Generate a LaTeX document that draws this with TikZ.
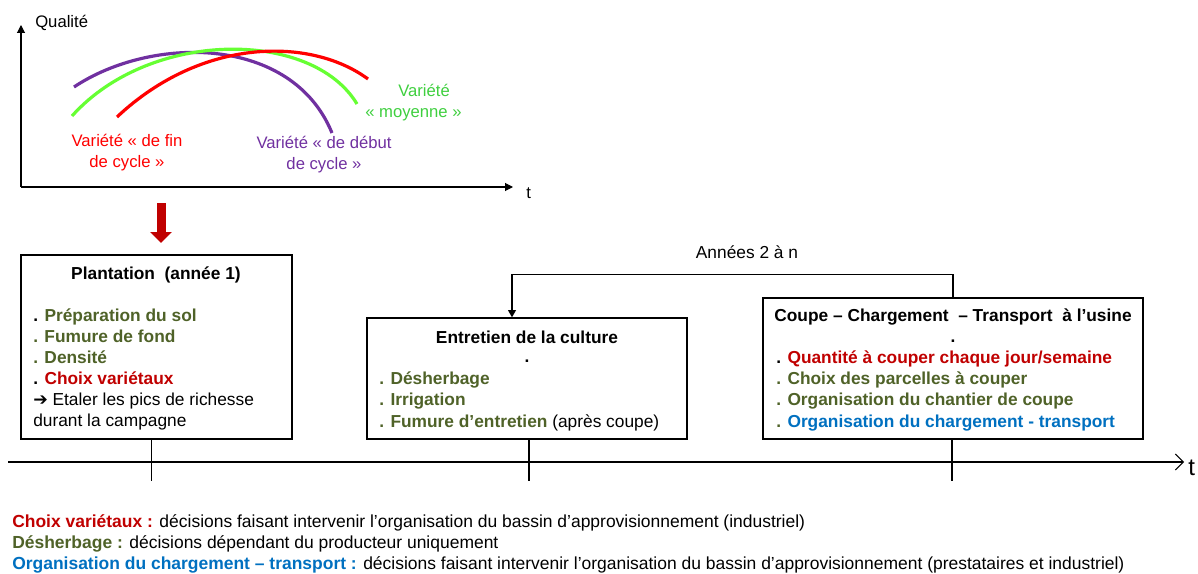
\documentclass[tikz,border=0pt]{standalone}
\usepackage{fontspec}
\setmainfont{Liberation Sans}
\usetikzlibrary{arrows.meta,fit,positioning,calc}
\definecolor{olivetxt}{HTML}{4F6228}
\definecolor{redtxt}{HTML}{C00000}
\definecolor{bluetxt}{HTML}{0070C0}
\definecolor{purplecv}{HTML}{7030A0}
\definecolor{greencv}{HTML}{66FF33}
\definecolor{greentxt}{HTML}{3FCF3F}
\definecolor{redcv}{HTML}{FF0000}
\tikzset{
  box/.style={draw, line width=1pt, inner sep=0pt},
  boxtitle/.style={anchor=base, inner sep=0pt, font=\fontsize{13}{15.75}\selectfont\bfseries},
  line/.style={anchor=base west, inner sep=0pt, font=\fontsize{13}{15.75}\selectfont},
  legend/.style={anchor=base west, inner sep=0pt, font=\fontsize{13.1}{15.75}\selectfont},
  curvelab/.style={align=center, inner sep=0pt, font=\fontsize{12.5}{15.75}\selectfont},
  curve/.style={line width=2.4pt},
  axis/.style={line width=0.8pt, -{Triangle[length=6pt,width=6pt]}},
  conn/.style={line width=0.8pt, -{Triangle[length=5.5pt,width=6pt]}},
}
\begin{document}
\begin{tikzpicture}[x=0.75pt,y=-0.75pt]
  \useasboundingbox (0,0) rectangle (1198,574);
  % Graphe qualite
  \coordinate (origin) at (21,187);
  \draw[axis] (origin) -- (21,25);
  \draw[axis] (origin) -- (513,187);
  \node[anchor=base west, inner sep=0pt, font=\fontsize{12.5}{15}\selectfont] (qual) at (35,28) {Qualité};
  \node[anchor=base west, inner sep=0pt, font=\fontsize{12.5}{15}\selectfont] (taxis) at (526,198) {t};
  \draw[curve, purplecv] (74,87) .. controls (152,35) and (292,35) .. (332,133);
  \draw[curve, greencv] (72,116) .. controls (150,29) and (312,29) .. (357,104);
  \draw[curve, redcv] (117,117) .. controls (202,37) and (311,37) .. (368,79);
  \node[curvelab, text=redcv] (labfin) at (127,153) {Variété « de fin\\de cycle »};
  \node[curvelab, text=purplecv] (labdebut) at (324,155) {Variété « de début\\de cycle »};
  \node[curvelab, text=greentxt, anchor=base west] (labmoy) at (398,97) {Variété};
  \node[curvelab, text=greentxt, anchor=base west] (labmoyb) at (365,118) {« moyenne »};
  % Fleche vers la plantation
  \coordinate (redstart) at (161,203);
  \draw[redtxt, line width=6.75pt, -{Triangle[length=8.25pt,width=15.75pt]}] (redstart) -- (161,243);
  % Boites
  \node[box, fit={(21,255) (292,439)}] (plant) {};
  \node[box, fit={(367,318) (687,439)}] (entretien) {};
  \node[box, fit={(763,298) (1143,439)}] (coupe) {};
  % Plantation
  \node[boxtitle] (planttitle) at (156,279) {Plantation\ \ (année 1)};
  \node[line] (p1) at (33,321) {\textbf{. \textcolor{olivetxt}{Préparation du sol}}};
  \node[line] (p2) at (33,342) {\textbf{\textcolor{olivetxt}{. Fumure de fond}}};
  \node[line] (p3) at (33,363) {\textbf{\textcolor{olivetxt}{. Densité}}};
  \node[line] (p4) at (33,384) {\textbf{. \textcolor{redtxt}{Choix variétaux}}};
  \node[line] (p5) at (33,405) {{\fontspec{DejaVu Sans}\bfseries ➔} Etaler les pics de richesse};
  \node[line] (p6) at (33,426) {durant la campagne};
  % Entretien
  \node[boxtitle] (enttitle) at (527,343) {Entretien de la culture};
  \node[boxtitle] (entdot) at (527,362) {.};
  \node[line] (e1) at (379,384) {\textbf{\textcolor{olivetxt}{. Désherbage}}};
  \node[line] (e2) at (379,405) {\textbf{\textcolor{olivetxt}{. Irrigation}}};
  \node[line] (e3) at (379,427) {\textbf{\textcolor{olivetxt}{. Fumure d’entretien}} (après coupe)};
  % Coupe
  \node[boxtitle] (coupetitle) at (953,321) {Coupe -- Chargement\ \ -- Transport\ \ à l’usine};
  \node[boxtitle] (coupedot) at (953,342) {.};
  \node[line] (c1) at (776,363) {\textbf{. \textcolor{redtxt}{Quantité à couper chaque jour/semaine}}};
  \node[line] (c2) at (776,384) {\textbf{\textcolor{olivetxt}{. Choix des parcelles à couper}}};
  \node[line] (c3) at (776,405) {\textbf{\textcolor{olivetxt}{. Organisation du chantier de coupe}}};
  \node[line] (c4) at (776,427) {\textbf{\textcolor{olivetxt}{.} \textcolor{bluetxt}{Organisation du chargement - transport}}};
  % Annees 2 a n
  \draw[conn] (coupe.north) -- ++(0,-23) -| ([xshift=-11.25pt]entretien.north);
  \node[anchor=base, inner sep=0pt, font=\fontsize{13}{15.75}\selectfont] (annees) at (747,258) {Années 2 à n};
  % Axe du temps
  \coordinate (tstart) at (8,462);
  \draw[line width=0.8pt, -{Straight Barb[length=6pt,width=12pt]}] (tstart) -- (1184,462);
  \node[anchor=base west, inner sep=0pt, font=\fontsize{18}{20}\selectfont] (tend) at (1188,475) {t};
  \draw[line width=0.8pt] ([xshift=-4pt]plant.south) -- ++(0,41);
  \draw[line width=0.8pt] ([xshift=1.5pt]entretien.south) -- ++(0,41);
  \draw[line width=0.8pt] ([xshift=-0.75pt]coupe.south) -- ++(0,41);
  % Legende
  \node[legend] (leg1) at (12,527) {\textbf{\textcolor{redtxt}{Choix variétaux :}} décisions faisant intervenir l’organisation du bassin d’approvisionnement (industriel)};
  \node[legend] (leg2) at (12,548) {\textbf{\textcolor{olivetxt}{Désherbage :}} décisions dépendant du producteur uniquement};
  \node[legend] (leg3) at (12,569) {\textbf{\textcolor{bluetxt}{Organisation du chargement -- transport :}} décisions faisant intervenir l’organisation du bassin d’approvisionnement (prestataires et industriel)};
\end{tikzpicture}
\end{document}
